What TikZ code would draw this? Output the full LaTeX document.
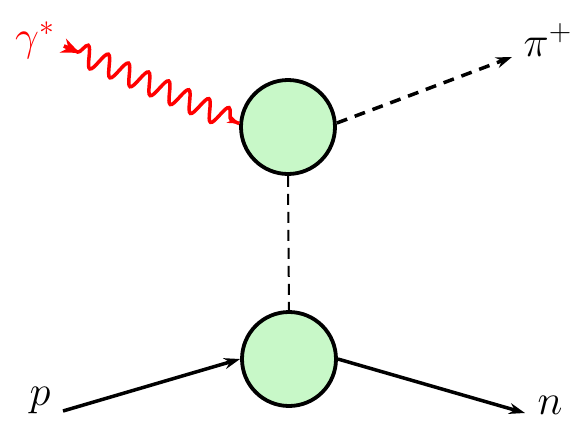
\documentclass[tikz,border=0pt]{standalone}
\usetikzlibrary{arrows.meta,decorations.pathmorphing,calc}
\definecolor{blobgreen}{RGB}{200,248,200}
\newcommand{\biglbl}[1]{\scalebox{2.05}{\huge #1}}
\tikzset{
  blob/.style={circle,draw=black,fill=blobgreen,line width=3.8pt,minimum size=94pt,inner sep=0pt},
  fermion/.style={line width=3.5pt,-{Stealth[length=16pt,width=11pt]}},
  scalar/.style={line width=3.5pt,dash pattern=on 11pt off 8pt,-{Stealth[length=16pt,width=11pt]}},
  propag/.style={line width=2pt,dash pattern=on 11pt off 7pt},
  photon/.style={red,line width=3.5pt,decorate,decoration={snake,amplitude=10.5pt,segment length=22pt,pre length=15pt,post length=6pt}},
  lbl/.style={inner sep=0pt}
}
\begin{document}
\begin{tikzpicture}[x=1pt,y=-1pt]
\useasboundingbox (0,0) rectangle (584,429);
\node[blob] (tc) at (288,127) {};
\node[blob] (bc) at (289,359) {};
\node[lbl,red] (gl) at (35,40) {\biglbl{$\gamma^*$}};
\node[lbl] (pil) at (548,40) {\biglbl{$\pi^+$}};
\node[lbl] (pl) at (40,400) {\biglbl{$p$}};
\node[lbl] (nl) at (550,405) {\biglbl{$n$}};
\coordinate (gs) at (64,46);
\coordinate (ps) at (63,411);
\coordinate (pe) at (512,57);
\coordinate (ne) at (525,413);
\draw[propag] (tc.south) -- (bc.north);
\draw[photon] (gs) -- (tc.176);
\draw[red,line width=3.5pt,-{Stealth[length=18pt,width=15pt]}] (gs) -- ($(gs)!17pt!(tc.176)$);
\draw[red,line width=1pt,-{Stealth[length=12pt,width=9pt]}] ($(tc.176)!10pt!(gs)$) -- (tc.176);
\coordinate (te) at ($(tc.east)+(0,-4)$);
\draw[scalar] (te) -- (pe);
\draw[fermion] (ps) -- (bc.west);
\draw[fermion] (bc.east) -- (ne);
\end{tikzpicture}
\end{document}
